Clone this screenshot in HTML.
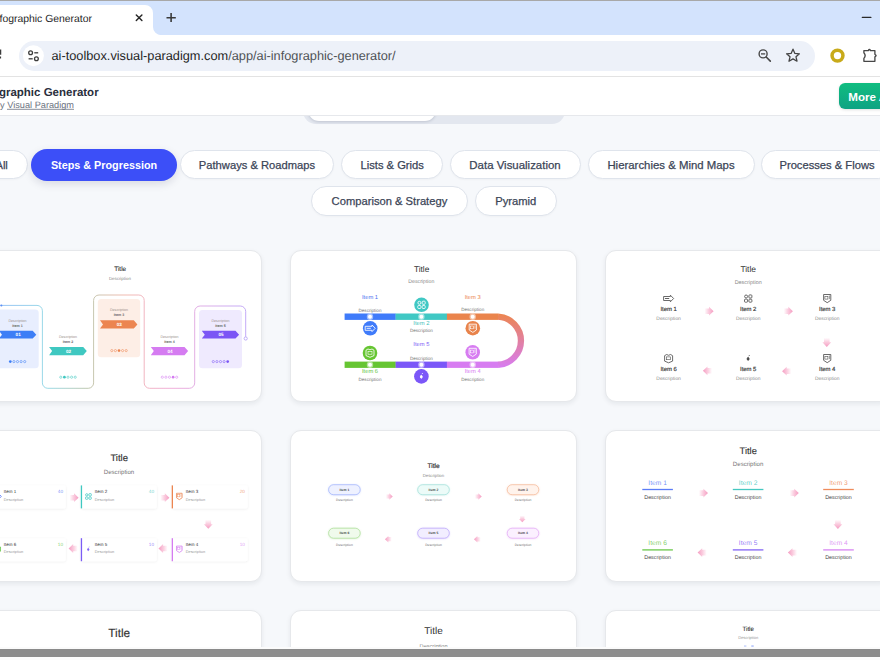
<!DOCTYPE html>
<html><head><meta charset="utf-8"><style>
*{box-sizing:border-box}
html,body{margin:0;padding:0}
body{width:880px;height:660px;overflow:hidden;position:relative;background:#f6f8fb;font-family:"Liberation Sans",sans-serif}
.a{position:absolute}
.pill{position:absolute;height:29.6px;border:1px solid #dfe4ec;background:#fff;box-shadow:0 1px 2px rgba(0,0,0,0.03);border-radius:15px;color:#3b4557;font-size:11.2px;display:flex;align-items:center;justify-content:center;white-space:nowrap;-webkit-text-stroke:0.25px #3b4557;padding-top:1px}
.card{position:absolute;width:287px;height:151.3px;background:#fff;border:1px solid #e6e8eb;border-radius:11px;box-shadow:0 2px 5px rgba(15,23,42,0.07)}
svg text{font-family:"Liberation Sans",sans-serif;text-rendering:geometricPrecision}
</style></head><body>

<!-- ===== Browser chrome ===== -->
<div class="a" style="left:0;top:0;width:880px;height:1px;background:#a8a8a8"></div>
<div class="a" style="left:0;top:1px;width:880px;height:34px;background:#d3e3fd"></div>
<svg class="a" style="left:0;top:0" width="880" height="36" viewBox="0 0 880 36">
  <path d="M-20 36 L-20 13 Q-20 5 -12 5 L145 5 A8 8 0 0 1 153 13 L153 27 A8.3 8.3 0 0 0 161.3 35.3 L161.3 36 Z" fill="#fff"/>
  <text x="92" y="22" font-size="10.4" fill="#1f1f1f" text-anchor="end">Infographic Generator</text>
  <path d="M136.3 14.9 L141.9 20.4 M141.9 14.9 L136.3 20.4" stroke="#262626" stroke-width="1.45" stroke-linecap="round"/>
  <path d="M166.5 17.75 H175.8 M171.1 13 V22" stroke="#3a3a3a" stroke-width="1.6"/>
  <path d="M862.3 17.4 L870.9 17.4" stroke="#2a2a2a" stroke-width="1.2" stroke-linecap="round"/>
</svg>
<div class="a" style="left:0;top:35px;width:880px;height:41px;background:#fff"></div>
<div class="a" style="left:0;top:76px;width:880px;height:1px;background:#e3e3e3"></div>
<div class="a" style="left:18.5px;top:41px;width:796px;height:30px;border-radius:15px;background:#edf1f9"></div>
<svg class="a" style="left:0;top:36px" width="880" height="40" viewBox="0 36 880 40">
  <path d="M0.4 49.6 L0.4 54.8" stroke="#3c3c3c" stroke-width="1.7"/>
  <path d="M0.4 56.6 L0.4 58.4" stroke="#3c3c3c" stroke-width="1.4"/>
  <circle cx="33.4" cy="55.7" r="10.5" fill="#fff"/>
  <circle cx="30.6" cy="52.8" r="1.9" fill="none" stroke="#3c3c3c" stroke-width="1.3"/>
  <path d="M34.3 52.8 L38.2 52.8" stroke="#3c3c3c" stroke-width="1.3"/>
  <circle cx="36.4" cy="58.8" r="1.9" fill="none" stroke="#3c3c3c" stroke-width="1.3"/>
  <path d="M28.6 58.8 L32.7 58.8" stroke="#3c3c3c" stroke-width="1.3"/>
  <text x="51.5" y="60" font-size="12.78" fill="#1f1f1f">ai-toolbox.visual-paradigm.com<tspan fill="#4d5156">/app/ai-infographic-generator/</tspan></text>
  <!-- zoom icon -->
  <circle cx="763.1" cy="53.9" r="4" fill="none" stroke="#474747" stroke-width="1.4"/>
  <path d="M761 53.9 L765.2 53.9" stroke="#474747" stroke-width="1.3"/>
  <path d="M766.2 57 L770.3 61.1" stroke="#474747" stroke-width="1.6" stroke-linecap="round"/>
  <!-- star -->
  <path d="M793 49.2 L794.9 53.4 L799.4 53.8 L796 56.8 L797 61.2 L793 58.9 L789 61.2 L790 56.8 L786.6 53.8 L791.1 53.4 Z" fill="none" stroke="#444" stroke-width="1.3" stroke-linejoin="round"/>
  <!-- extension ring -->
  <circle cx="837.5" cy="55.6" r="5.45" fill="none" stroke="#c8aa1a" stroke-width="3.5"/>
  <!-- puzzle -->
  <path d="M863.9 50.6 L868.3 50.6 Q869.4 48.4 870.5 50.6 L874.9 50.6 L874.9 54.3 Q877.3 55.6 874.9 56.9 L874.9 61.3 L863.9 61.3 L863.9 58.4 Q866.4 55.6 863.9 52.8 Z" fill="none" stroke="#474747" stroke-width="1.35" stroke-linejoin="round"/>
</svg>

<!-- segmented control remnant -->
<div class="a" style="left:303px;top:90px;width:262px;height:33.5px;border-radius:13px;background:#e3e7ef"></div>
<div class="a" style="left:308px;top:90px;width:128px;height:30.5px;border-radius:11px;background:#fff;box-shadow:0 1px 3px rgba(30,40,70,0.18)"></div>
<!-- ===== Page header ===== -->
<div class="a" style="left:0;top:77px;width:880px;height:38px;background:#fff"></div>
<div class="a" style="left:0;top:115px;width:880px;height:1px;background:#e6e8ec"></div>
<svg class="a" style="left:0;top:77px" width="880" height="38" viewBox="0 77 880 38">
  <text x="98.6" y="95.7" font-size="11.5" font-weight="700" fill="#2a2f3d" text-anchor="end">AI Infographic Generator</text>
  <text x="74" y="107.8" font-size="9.2" fill="#6b7280" text-anchor="end">By Visual Paradigm</text>
  <path d="M7 109.3 L74 109.3" stroke="#6b7280" stroke-width="0.8"/>
</svg>
<div class="a" style="left:839px;top:83px;width:80px;height:26px;border-radius:6px;background:linear-gradient(180deg,#10bd80,#0ea383);box-shadow:0 1px 3px rgba(0,0,0,0.12)"></div>
<div class="a" style="left:848.3px;top:90px;color:#fff;font-weight:700;font-size:11.6px;line-height:14px;white-space:nowrap">More AI Tools</div>

<!-- ===== Category pills ===== -->
<div class="pill" style="left:-24.5px;top:149.8px;width:52.3px">All</div>
<div class="a" style="left:31px;top:149px;width:146px;height:31.5px;border-radius:16px;background:#3c4ff8;box-shadow:0 3px 8px rgba(20,25,60,0.13);color:#fff;font-weight:700;font-size:10.8px;display:flex;align-items:center;justify-content:center;padding-top:1px">Steps &amp; Progression</div>
<div class="pill" style="left:180.2px;top:149.8px;width:153.6px">Pathways &amp; Roadmaps</div>
<div class="pill" style="left:341.4px;top:149.8px;width:101.6px">Lists &amp; Grids</div>
<div class="pill" style="left:449.5px;top:149.8px;width:131px;font-size:11.45px">Data Visualization</div>
<div class="pill" style="left:587.5px;top:149.8px;width:167px;font-size:11.4px">Hierarchies &amp; Mind Maps</div>
<div class="pill" style="left:761px;top:149.8px;width:132px">Processes &amp; Flows</div>
<div class="pill" style="left:311.2px;top:186px;width:156.5px">Comparison &amp; Strategy</div>
<div class="pill" style="left:475px;top:186px;width:81.5px">Pyramid</div>

<!-- ===== Cards ===== -->
<div class="card" style="left:-25px;top:250.3px"></div>
<div class="card" style="left:290px;top:250.3px"></div>
<div class="card" style="left:605px;top:250.3px"></div>
<div class="card" style="left:-25px;top:430.3px"></div>
<div class="card" style="left:290px;top:430.3px"></div>
<div class="card" style="left:605px;top:430.3px"></div>
<div class="card" style="left:-25px;top:610.3px"></div>
<div class="card" style="left:290px;top:610.3px"></div>
<div class="card" style="left:605px;top:610.3px"></div>

<!-- CARD CONTENT -->
<svg class="a" style="left:0;top:0;z-index:3;pointer-events:none" width="880" height="660" viewBox="0 0 880 660">
<defs>
<linearGradient id="ag" x1="-4.5" x2="4.5" y1="0" y2="0" gradientUnits="userSpaceOnUse"><stop offset="0" stop-color="#f7a6c6" stop-opacity="0"/><stop offset="0.45" stop-color="#f7a6c6" stop-opacity="0.55"/><stop offset="1" stop-color="#f59cc2"/></linearGradient>
<path id="arr" d="M-4.5 -2.8 H0 V-4.4 L4.6 0 L0 4.4 V2.8 H-4.5 Z" fill="url(#ag)"/>
<linearGradient id="g1" x1="-10" x2="250" y1="0" y2="0" gradientUnits="userSpaceOnUse">
 <stop offset="0" stop-color="#8cb6f6"/><stop offset="0.22" stop-color="#8ed6e4"/><stop offset="0.38" stop-color="#b9c2a6"/>
 <stop offset="0.52" stop-color="#f0b2a6"/><stop offset="0.7" stop-color="#efa6d6"/><stop offset="1" stop-color="#b9a0f8"/></linearGradient>
<linearGradient id="cv" x1="0" y1="314" x2="0" y2="367.5" gradientUnits="userSpaceOnUse"><stop offset="0" stop-color="#ec8550"/><stop offset="1" stop-color="#d77cf1"/></linearGradient>
<g id="i_tag" fill="none"><path d="M-5 -2 H1.8 V-3.3 L5 0 L1.8 3.3 V2 H-5 Z"/><path d="M-3.6 0 H0.6" stroke-width="0.9"/></g>
<g id="i_grid" fill="none"><circle cx="-2.1" cy="-2" r="1.5"/><rect x="0.7" y="-3.6" width="3" height="3.1" rx="0.8"/><rect x="-3.7" y="0.7" width="3.1" height="3" rx="0.8"/><rect x="0.7" y="0.7" width="3" height="3" rx="0.8"/></g>
<g id="i_doc" fill="none"><path d="M-3.6 -4 H3.6 V1.8 L0 4.2 L-3.6 1.8 Z"/><rect x="-2.3" y="-2.2" width="3" height="2.8" stroke-width="0.6"/><path d="M2.2 -3 V0.6" stroke-width="0.6"/></g>
<g id="i_book" fill="none"><path d="M-4 -2.8 L-2 -4 L0 -3.2 L2 -4 L4 -2.8 V2.6 L0 4.3 L-4 2.6 Z"/><rect x="-2" y="-1.6" width="4" height="2.8" stroke-width="0.6"/></g>
<g id="i_note"><ellipse cx="-0.1" cy="0.4" rx="0.9" ry="1.4"/><path d="M0.4 -2.6 L1.6 -3.1" stroke-width="0.7"/></g>
<filter id="bl" x="-30%" y="-80%" width="160%" height="260%"><feGaussianBlur stdDeviation="1.3"/></filter>
<filter id="sh" x="-20%" y="-40%" width="140%" height="180%"><feDropShadow dx="0" dy="0.6" stdDeviation="0.9" flood-color="#000" flood-opacity="0.08"/></filter>
</defs>
<text x="120.2" y="271" font-size="6.4" fill="#333" text-anchor="middle" stroke="#333" stroke-width="0.12">Title</text>
<text x="119.9" y="279.8" font-size="4.4" fill="#888" text-anchor="middle">Description</text>
<rect x="-4.5" y="309.4" width="43.2" height="58.8" rx="3.5" fill="#e8eefe"/>
<rect x="97.8" y="299" width="42.4" height="58.2" rx="3.5" fill="#fdeee6"/>
<rect x="199" y="310" width="43" height="58.2" rx="3.5" fill="#efeafe"/>
<path d="M-10 305.4 H37 A5.4 5.4 0 0 1 42.4 310.8 V382.9 A5.4 5.4 0 0 0 47.8 388.3 H88.2 A5.4 5.4 0 0 0 93.6 382.9 V300.4 A5.4 5.4 0 0 1 99 295 H138.8 A5.4 5.4 0 0 1 144.2 300.4 V382.9 A5.4 5.4 0 0 0 149.6 388.3 H189.3 A5.4 5.4 0 0 0 194.7 382.9 V311.4 A5.4 5.4 0 0 1 200.1 306 H240.3 A5.4 5.4 0 0 1 245.7 311.4 V336.8" fill="none" stroke="url(#g1)" stroke-width="0.9"/><circle cx="1.4" cy="305.5" r="1" fill="#5d8ff6"/>
<circle cx="245.7" cy="338.5" r="1.6" fill="#fff" stroke="#b39cf6" stroke-width="0.8"/>
<path d="M-1 330.8 H32.699999999999996 L36.3 334.65 L32.699999999999996 338.5 H-1 L2 334.65 Z" fill="#3d7ef6"/>
<text x="18.15" y="336.25" font-size="4.6" fill="#fff" text-anchor="middle" font-weight="700">01</text>
<text x="17.5" y="321.5" font-size="3.6" fill="#9a8f8a" text-anchor="middle">Description</text>
<text x="17.5" y="326.7" font-size="3.6" fill="#6b6b6b" text-anchor="middle" font-weight="700">Item 1</text>
<circle cx="10.30" cy="361.6" r="1.35" fill="#3d7ef6"/>
<circle cx="13.90" cy="361.6" r="1.1" fill="none" stroke="#3d7ef6" stroke-width="0.55"/>
<circle cx="17.50" cy="361.6" r="1.1" fill="none" stroke="#3d7ef6" stroke-width="0.55"/>
<circle cx="21.10" cy="361.6" r="1.1" fill="none" stroke="#3d7ef6" stroke-width="0.55"/>
<circle cx="24.70" cy="361.6" r="1.1" fill="none" stroke="#3d7ef6" stroke-width="0.55"/>
<path d="M49.1 346.9 H83.2 L86.8 351.04999999999995 L83.2 355.2 H49.1 L52.1 351.04999999999995 Z" fill="#3fc8c1"/>
<text x="68.45" y="352.65" font-size="4.6" fill="#fff" text-anchor="middle" font-weight="700">02</text>
<text x="68" y="337.59999999999997" font-size="3.6" fill="#9a8f8a" text-anchor="middle">Description</text>
<text x="68" y="342.79999999999995" font-size="3.6" fill="#6b6b6b" text-anchor="middle" font-weight="700">Item 2</text>
<circle cx="60.80" cy="377.2" r="1.1" fill="none" stroke="#3fc8c1" stroke-width="0.55"/>
<circle cx="64.40" cy="377.2" r="1.35" fill="#3fc8c1"/>
<circle cx="68.00" cy="377.2" r="1.1" fill="none" stroke="#3fc8c1" stroke-width="0.55"/>
<circle cx="71.60" cy="377.2" r="1.1" fill="none" stroke="#3fc8c1" stroke-width="0.55"/>
<circle cx="75.20" cy="377.2" r="1.1" fill="none" stroke="#3fc8c1" stroke-width="0.55"/>
<path d="M100 320.3 H133.8 L137.4 324.45000000000005 L133.8 328.6 H100 L103 324.45000000000005 Z" fill="#ec8550"/>
<text x="119.2" y="326.05000000000007" font-size="4.6" fill="#fff" text-anchor="middle" font-weight="700">03</text>
<text x="119" y="311.0" font-size="3.6" fill="#9a8f8a" text-anchor="middle">Description</text>
<text x="119" y="316.2" font-size="3.6" fill="#6b6b6b" text-anchor="middle" font-weight="700">Item 3</text>
<circle cx="111.80" cy="350.6" r="1.1" fill="none" stroke="#ec8550" stroke-width="0.55"/>
<circle cx="115.40" cy="350.6" r="1.1" fill="none" stroke="#ec8550" stroke-width="0.55"/>
<circle cx="119.00" cy="350.6" r="1.35" fill="#ec8550"/>
<circle cx="122.60" cy="350.6" r="1.1" fill="none" stroke="#ec8550" stroke-width="0.55"/>
<circle cx="126.20" cy="350.6" r="1.1" fill="none" stroke="#ec8550" stroke-width="0.55"/>
<path d="M150.8 346.9 H184.5 L188.1 351.04999999999995 L184.5 355.2 H150.8 L153.8 351.04999999999995 Z" fill="#d57cf1"/>
<text x="169.95" y="352.65" font-size="4.6" fill="#fff" text-anchor="middle" font-weight="700">04</text>
<text x="169.5" y="337.59999999999997" font-size="3.6" fill="#9a8f8a" text-anchor="middle">Description</text>
<text x="169.5" y="342.79999999999995" font-size="3.6" fill="#6b6b6b" text-anchor="middle" font-weight="700">Item 4</text>
<circle cx="162.30" cy="377.2" r="1.1" fill="none" stroke="#d57cf1" stroke-width="0.55"/>
<circle cx="165.90" cy="377.2" r="1.1" fill="none" stroke="#d57cf1" stroke-width="0.55"/>
<circle cx="169.50" cy="377.2" r="1.1" fill="none" stroke="#d57cf1" stroke-width="0.55"/>
<circle cx="173.10" cy="377.2" r="1.35" fill="#d57cf1"/>
<circle cx="176.70" cy="377.2" r="1.1" fill="none" stroke="#d57cf1" stroke-width="0.55"/>
<path d="M201.8 330.8 H235.5 L239.1 334.65 L235.5 338.5 H201.8 L204.8 334.65 Z" fill="#7b55f5"/>
<text x="220.95" y="336.25" font-size="4.6" fill="#fff" text-anchor="middle" font-weight="700">05</text>
<text x="220.5" y="321.5" font-size="3.6" fill="#9a8f8a" text-anchor="middle">Description</text>
<text x="220.5" y="326.7" font-size="3.6" fill="#6b6b6b" text-anchor="middle" font-weight="700">Item 5</text>
<circle cx="213.30" cy="361.6" r="1.1" fill="none" stroke="#7b55f5" stroke-width="0.55"/>
<circle cx="216.90" cy="361.6" r="1.1" fill="none" stroke="#7b55f5" stroke-width="0.55"/>
<circle cx="220.50" cy="361.6" r="1.1" fill="none" stroke="#7b55f5" stroke-width="0.55"/>
<circle cx="224.10" cy="361.6" r="1.1" fill="none" stroke="#7b55f5" stroke-width="0.55"/>
<circle cx="227.70" cy="361.6" r="1.35" fill="#7b55f5"/>
<circle cx="-0.5" cy="334.7" r="1.3" fill="#fff"/>
<text x="421.6" y="271.9" font-size="8.3" fill="#333" text-anchor="middle">Title</text>
<text x="421.3" y="282.7" font-size="5.2" fill="#888" text-anchor="middle">Description</text>
<rect x="344.6" y="313.5" width="51.2" height="6.4" fill="#3f7bfa"/>
<rect x="395.6" y="313.5" width="51.4" height="6.4" fill="#40c8c4"/>
<rect x="446.9" y="313.5" width="51.3" height="6.4" fill="#ea844c"/>
<rect x="344.6" y="361.6" width="51.2" height="6.3" fill="#66c532"/>
<rect x="395.6" y="361.6" width="51.4" height="6.3" fill="#7b57f8"/>
<rect x="446.9" y="361.6" width="51.3" height="6.3" fill="#d77cf1"/>
<path d="M498 316.7 A24.05 24.05 0 0 1 498 364.75" fill="none" stroke="url(#cv)" stroke-width="6.3"/>
<circle cx="370" cy="316.7" r="3.2" fill="#fff" fill-opacity="0.5"/><circle cx="370" cy="316.7" r="2" fill="#fff"/>
<circle cx="370" cy="364.75" r="3.2" fill="#fff" fill-opacity="0.5"/><circle cx="370" cy="364.75" r="2" fill="#fff"/>
<circle cx="421.4" cy="316.7" r="3.2" fill="#fff" fill-opacity="0.5"/><circle cx="421.4" cy="316.7" r="2" fill="#fff"/>
<circle cx="421.4" cy="364.75" r="3.2" fill="#fff" fill-opacity="0.5"/><circle cx="421.4" cy="364.75" r="2" fill="#fff"/>
<circle cx="472.7" cy="316.7" r="3.2" fill="#fff" fill-opacity="0.5"/><circle cx="472.7" cy="316.7" r="2" fill="#fff"/>
<circle cx="472.7" cy="364.75" r="3.2" fill="#fff" fill-opacity="0.5"/><circle cx="472.7" cy="364.75" r="2" fill="#fff"/>
<circle cx="370.2" cy="328.3" r="7.3" fill="#3f7bfa"/>
<use href="#i_tag" transform="translate(370.2 328.3) scale(1.0)" stroke="#fff" stroke-width="0.85"/>
<circle cx="421.5" cy="304.8" r="7.3" fill="#40c8c4"/>
<use href="#i_grid" transform="translate(421.5 304.8) scale(1.0)" stroke="#fff" stroke-width="0.85"/>
<circle cx="472.8" cy="328.2" r="7.3" fill="#e8834b"/>
<use href="#i_doc" transform="translate(472.8 328.2) scale(1.0)" stroke="#fff" stroke-width="0.85"/>
<circle cx="370" cy="353" r="7.3" fill="#66c532"/>
<use href="#i_book" transform="translate(370 353) scale(1.0)" stroke="#fff" stroke-width="0.85"/>
<circle cx="421.4" cy="376.4" r="7.3" fill="#7b57f8"/>
<use href="#i_note" transform="translate(421.4 376.4)" fill="#fff" stroke="#fff"/>
<circle cx="472.7" cy="352.3" r="7.3" fill="#d77cf1"/>
<use href="#i_doc" transform="translate(472.7 352.3) scale(1.0)" stroke="#fff" stroke-width="0.85"/>
<text x="370" y="298.5" font-size="5.8" fill="#4b6ef0" text-anchor="middle">Item 1</text>
<text x="370" y="311.59999999999997" font-size="4.6" fill="#777" text-anchor="middle">Description</text>
<text x="421.4" y="325.1" font-size="5.8" fill="#3fc0b8" text-anchor="middle">Item 2</text>
<text x="421.4" y="331.79999999999995" font-size="4.6" fill="#777" text-anchor="middle">Description</text>
<text x="472.7" y="298.6" font-size="5.8" fill="#ec8550" text-anchor="middle">Item 3</text>
<text x="472.7" y="311.4" font-size="4.6" fill="#777" text-anchor="middle">Description</text>
<text x="421.4" y="346.3" font-size="5.8" fill="#7b5cf5" text-anchor="middle">Item 5</text>
<text x="421.4" y="360.4" font-size="4.6" fill="#777" text-anchor="middle">Description</text>
<text x="370" y="372.8" font-size="5.8" fill="#5ec440" text-anchor="middle">Item 6</text>
<text x="370" y="380.59999999999997" font-size="4.6" fill="#777" text-anchor="middle">Description</text>
<text x="472.7" y="372.70000000000005" font-size="5.8" fill="#d77cf1" text-anchor="middle">Item 4</text>
<text x="472.7" y="380.7" font-size="4.6" fill="#777" text-anchor="middle">Description</text>
<text x="748.2" y="271.8" font-size="8.4" fill="#333" text-anchor="middle">Title</text>
<text x="748.2" y="283.5" font-size="5.4" fill="#888" text-anchor="middle">Description</text>
<use href="#i_tag" transform="translate(668.6 298.5)" stroke="#505050" stroke-width="0.85"/>
<text x="668.6" y="310.8" font-size="5.9" fill="#3a3a3a" text-anchor="middle" stroke="#3a3a3a" stroke-width="0.18">Item 1</text>
<text x="668.6" y="319.8" font-size="4.9" fill="#8a8a8a" text-anchor="middle">Description</text>
<use href="#i_grid" transform="translate(748.2 298.5)" stroke="#505050" stroke-width="0.85"/>
<text x="748.2" y="310.8" font-size="5.9" fill="#3a3a3a" text-anchor="middle" stroke="#3a3a3a" stroke-width="0.18">Item 2</text>
<text x="748.2" y="319.8" font-size="4.9" fill="#8a8a8a" text-anchor="middle">Description</text>
<use href="#i_doc" transform="translate(827.2 298.5)" stroke="#505050" stroke-width="0.85"/>
<text x="827.2" y="310.8" font-size="5.9" fill="#3a3a3a" text-anchor="middle" stroke="#3a3a3a" stroke-width="0.18">Item 3</text>
<text x="827.2" y="319.8" font-size="4.9" fill="#8a8a8a" text-anchor="middle">Description</text>
<use href="#i_book" transform="translate(668.6 358.5)" stroke="#505050" stroke-width="0.85"/>
<text x="668.6" y="371.0" font-size="5.9" fill="#3a3a3a" text-anchor="middle" stroke="#3a3a3a" stroke-width="0.18">Item 6</text>
<text x="668.6" y="379.8" font-size="4.9" fill="#8a8a8a" text-anchor="middle">Description</text>
<use href="#i_note" transform="translate(748.2 358.5)" fill="#444" stroke="#444"/>
<text x="748.2" y="371.0" font-size="5.9" fill="#3a3a3a" text-anchor="middle" stroke="#3a3a3a" stroke-width="0.18">Item 5</text>
<text x="748.2" y="379.8" font-size="4.9" fill="#8a8a8a" text-anchor="middle">Description</text>
<use href="#i_doc" transform="translate(827.2 358.5)" stroke="#505050" stroke-width="0.85"/>
<text x="827.2" y="371.0" font-size="5.9" fill="#3a3a3a" text-anchor="middle" stroke="#3a3a3a" stroke-width="0.18">Item 4</text>
<text x="827.2" y="379.8" font-size="4.9" fill="#8a8a8a" text-anchor="middle">Description</text>
<use href="#arr" transform="translate(709 311.2) rotate(0) scale(1.0)"/>
<use href="#arr" transform="translate(788.3 311.2) rotate(0) scale(1.0)"/>
<use href="#arr" transform="translate(826.8 342.3) rotate(90) scale(1.0)"/>
<use href="#arr" transform="translate(786.7 371.2) rotate(180) scale(1.0)"/>
<use href="#arr" transform="translate(707.5 370.8) rotate(180) scale(1.0)"/>
<text x="119.2" y="460.8" font-size="9.5" fill="#333" text-anchor="middle" stroke="#333" stroke-width="0.15">Title</text>
<text x="119" y="473.9" font-size="6.1" fill="#777" text-anchor="middle">Description</text>
<rect x="-10.2" y="485.4" width="76" height="23" rx="2" fill="#fff" filter="url(#sh)"/>
<rect x="-10.2" y="485.4" width="1.3" height="23" fill="#4b6ef5"/>
<use href="#i_tag" transform="translate(-2.5999999999999996 496.4) scale(0.78)" stroke="#4b6ef5" stroke-width="1"/>
<text x="3.8000000000000007" y="492.79999999999995" font-size="4.5" fill="#333" text-anchor="start">Item 1</text>
<text x="3.8000000000000007" y="500.59999999999997" font-size="3.9" fill="#999" text-anchor="start">Description</text>
<text x="63.0" y="492.79999999999995" font-size="4.7" fill="#4b6ef5" text-anchor="end" fill-opacity="0.75">40</text>
<rect x="80.8" y="485.4" width="76" height="23" rx="2" fill="#fff" filter="url(#sh)"/>
<rect x="80.8" y="485.4" width="1.3" height="23" fill="#3fc8c1"/>
<use href="#i_grid" transform="translate(88.39999999999999 496.4) scale(0.78)" stroke="#3fc8c1" stroke-width="1"/>
<text x="94.8" y="492.79999999999995" font-size="4.5" fill="#333" text-anchor="start">Item 2</text>
<text x="94.8" y="500.59999999999997" font-size="3.9" fill="#999" text-anchor="start">Description</text>
<text x="154.0" y="492.79999999999995" font-size="4.7" fill="#3fc8c1" text-anchor="end" fill-opacity="0.75">40</text>
<rect x="171.7" y="485.4" width="76" height="23" rx="2" fill="#fff" filter="url(#sh)"/>
<rect x="171.7" y="485.4" width="1.3" height="23" fill="#ec8550"/>
<use href="#i_doc" transform="translate(179.29999999999998 496.4) scale(0.78)" stroke="#ec8550" stroke-width="1"/>
<text x="185.7" y="492.79999999999995" font-size="4.5" fill="#333" text-anchor="start">Item 3</text>
<text x="185.7" y="500.59999999999997" font-size="3.9" fill="#999" text-anchor="start">Description</text>
<text x="244.89999999999998" y="492.79999999999995" font-size="4.7" fill="#ec8550" text-anchor="end" fill-opacity="0.75">20</text>
<rect x="-10.2" y="538.2" width="76" height="23" rx="2" fill="#fff" filter="url(#sh)"/>
<rect x="-10.2" y="538.2" width="1.3" height="23" fill="#5ec440"/>
<use href="#i_book" transform="translate(-2.5999999999999996 549.2) scale(0.78)" stroke="#5ec440" stroke-width="1"/>
<text x="3.8000000000000007" y="545.6" font-size="4.5" fill="#333" text-anchor="start">Item 6</text>
<text x="3.8000000000000007" y="553.4000000000001" font-size="3.9" fill="#999" text-anchor="start">Description</text>
<text x="63.0" y="545.6" font-size="4.7" fill="#5ec440" text-anchor="end" fill-opacity="0.75">10</text>
<rect x="80.8" y="538.2" width="76" height="23" rx="2" fill="#fff" filter="url(#sh)"/>
<rect x="80.8" y="538.2" width="1.3" height="23" fill="#7b5cf5"/>
<use href="#i_note" transform="translate(88.3 549.2) scale(0.75)" fill="#7b5cf5" stroke="#7b5cf5"/>
<text x="94.8" y="545.6" font-size="4.5" fill="#333" text-anchor="start">Item 5</text>
<text x="94.8" y="553.4000000000001" font-size="3.9" fill="#999" text-anchor="start">Description</text>
<text x="154.0" y="545.6" font-size="4.7" fill="#7b5cf5" text-anchor="end" fill-opacity="0.75">10</text>
<rect x="171.7" y="538.2" width="76" height="23" rx="2" fill="#fff" filter="url(#sh)"/>
<rect x="171.7" y="538.2" width="1.3" height="23" fill="#d57cf1"/>
<use href="#i_doc" transform="translate(179.29999999999998 549.2) scale(0.78)" stroke="#d57cf1" stroke-width="1"/>
<text x="185.7" y="545.6" font-size="4.5" fill="#333" text-anchor="start">Item 4</text>
<text x="185.7" y="553.4000000000001" font-size="3.9" fill="#999" text-anchor="start">Description</text>
<text x="244.89999999999998" y="545.6" font-size="4.7" fill="#d57cf1" text-anchor="end" fill-opacity="0.75">10</text>
<use href="#arr" transform="translate(74 497.7) rotate(0) scale(1.0)"/>
<use href="#arr" transform="translate(164.8 497.7) rotate(0) scale(1.0)"/>
<use href="#arr" transform="translate(208.3 524.2) rotate(90) scale(1.0)"/>
<use href="#arr" transform="translate(163.1 548.5) rotate(180) scale(1.0)"/>
<use href="#arr" transform="translate(73.2 548.5) rotate(180) scale(1.0)"/>
<text x="433.6" y="467.7" font-size="6.5" fill="#333" text-anchor="middle" stroke="#333" stroke-width="0.2">Title</text>
<text x="433.4" y="476.6" font-size="4.3" fill="#888" text-anchor="middle">Description</text>
<rect x="328.59999999999997" y="485.09999999999997" width="31.6" height="10" rx="5" fill="#9fb2fb" opacity="0.6" filter="url(#bl)"/>
<rect x="328.59999999999997" y="484.7" width="31.6" height="10" rx="5" fill="#eef1ff" stroke="#9fb2fb" stroke-width="0.7"/>
<text x="344.4" y="490.8" font-size="3.4" fill="#444" text-anchor="middle" font-weight="700">Item 1</text>
<text x="344.4" y="501" font-size="3.35" fill="#6f6f6f" text-anchor="middle">Description</text>
<rect x="417.7" y="485.09999999999997" width="31.6" height="10" rx="5" fill="#9fe0d8" opacity="0.6" filter="url(#bl)"/>
<rect x="417.7" y="484.7" width="31.6" height="10" rx="5" fill="#ecfbf8" stroke="#9fe0d8" stroke-width="0.7"/>
<text x="433.5" y="490.8" font-size="3.4" fill="#444" text-anchor="middle" font-weight="700">Item 2</text>
<text x="433.5" y="501" font-size="3.35" fill="#6f6f6f" text-anchor="middle">Description</text>
<rect x="507.2" y="485.09999999999997" width="31.6" height="10" rx="5" fill="#f5b896" opacity="0.6" filter="url(#bl)"/>
<rect x="507.2" y="484.7" width="31.6" height="10" rx="5" fill="#fff3ec" stroke="#f5b896" stroke-width="0.7"/>
<text x="523" y="490.8" font-size="3.4" fill="#444" text-anchor="middle" font-weight="700">Item 3</text>
<text x="523" y="501" font-size="3.35" fill="#6f6f6f" text-anchor="middle">Description</text>
<rect x="328.59999999999997" y="528.6" width="31.6" height="10" rx="5" fill="#a9dd95" opacity="0.6" filter="url(#bl)"/>
<rect x="328.59999999999997" y="528.2" width="31.6" height="10" rx="5" fill="#f0faec" stroke="#a9dd95" stroke-width="0.7"/>
<text x="344.4" y="534.3000000000001" font-size="3.4" fill="#444" text-anchor="middle" font-weight="700">Item 6</text>
<text x="344.4" y="545.5" font-size="3.35" fill="#6f6f6f" text-anchor="middle">Description</text>
<rect x="417.7" y="528.6" width="31.6" height="10" rx="5" fill="#b9a4fa" opacity="0.6" filter="url(#bl)"/>
<rect x="417.7" y="528.2" width="31.6" height="10" rx="5" fill="#f2eeff" stroke="#b9a4fa" stroke-width="0.7"/>
<text x="433.5" y="534.3000000000001" font-size="3.4" fill="#444" text-anchor="middle" font-weight="700">Item 5</text>
<text x="433.5" y="545.5" font-size="3.35" fill="#6f6f6f" text-anchor="middle">Description</text>
<rect x="507.2" y="528.6" width="31.6" height="10" rx="5" fill="#e2a8f5" opacity="0.6" filter="url(#bl)"/>
<rect x="507.2" y="528.2" width="31.6" height="10" rx="5" fill="#fbf0ff" stroke="#e2a8f5" stroke-width="0.7"/>
<text x="523" y="534.3000000000001" font-size="3.4" fill="#444" text-anchor="middle" font-weight="700">Item 4</text>
<text x="523" y="545.5" font-size="3.35" fill="#6f6f6f" text-anchor="middle">Description</text>
<use href="#arr" transform="translate(389.3 496.5) rotate(0) scale(0.75)"/>
<use href="#arr" transform="translate(478.3 496.5) rotate(0) scale(0.75)"/>
<use href="#arr" transform="translate(522.3 518.9) rotate(90) scale(0.75)"/>
<use href="#arr" transform="translate(477.4 539.3) rotate(180) scale(0.75)"/>
<use href="#arr" transform="translate(388.4 539.2) rotate(180) scale(0.75)"/>
<text x="748.2" y="453.6" font-size="9.4" fill="#333" text-anchor="middle" stroke="#333" stroke-width="0.12">Title</text>
<text x="748.1" y="465.7" font-size="6.1" fill="#777" text-anchor="middle">Description</text>
<text x="657.6" y="484.70000000000005" font-size="6.7" fill="#5b7cf7" text-anchor="middle" fill-opacity="0.85">Item 1</text>
<rect x="642.3000000000001" y="488.85" width="30.6" height="1.3" fill="#5b7cf7"/>
<text x="657.6" y="498.8" font-size="5.3" fill="#444" text-anchor="middle">Description</text>
<text x="748.1" y="484.70000000000005" font-size="6.7" fill="#45c8c0" text-anchor="middle" fill-opacity="0.85">Item 2</text>
<rect x="732.8000000000001" y="488.85" width="30.6" height="1.3" fill="#45c8c0"/>
<text x="748.1" y="498.8" font-size="5.3" fill="#444" text-anchor="middle">Description</text>
<text x="838.5" y="484.70000000000005" font-size="6.7" fill="#ef8c5c" text-anchor="middle" fill-opacity="0.85">Item 3</text>
<rect x="823.2" y="488.85" width="30.6" height="1.3" fill="#ef8c5c"/>
<text x="838.5" y="498.8" font-size="5.3" fill="#444" text-anchor="middle">Description</text>
<text x="657.6" y="545.1" font-size="6.7" fill="#6cc84c" text-anchor="middle" fill-opacity="0.85">Item 6</text>
<rect x="642.3000000000001" y="549.25" width="30.6" height="1.3" fill="#6cc84c"/>
<text x="657.6" y="559.2" font-size="5.3" fill="#444" text-anchor="middle">Description</text>
<text x="748.1" y="545.1" font-size="6.7" fill="#8466f5" text-anchor="middle" fill-opacity="0.85">Item 5</text>
<rect x="732.8000000000001" y="549.25" width="30.6" height="1.3" fill="#8466f5"/>
<text x="748.1" y="559.2" font-size="5.3" fill="#444" text-anchor="middle">Description</text>
<text x="838.5" y="545.1" font-size="6.7" fill="#d786f2" text-anchor="middle" fill-opacity="0.85">Item 4</text>
<rect x="823.2" y="549.25" width="30.6" height="1.3" fill="#d786f2"/>
<text x="838.5" y="559.2" font-size="5.3" fill="#444" text-anchor="middle">Description</text>
<use href="#arr" transform="translate(703.4 493.1) rotate(0) scale(1.0)"/>
<use href="#arr" transform="translate(794.2 493.1) rotate(0) scale(1.0)"/>
<use href="#arr" transform="translate(837.9 524.3) rotate(90) scale(1.0)"/>
<use href="#arr" transform="translate(792.5 552.6) rotate(180) scale(1.0)"/>
<use href="#arr" transform="translate(702.2 552.6) rotate(180) scale(1.0)"/>
<text x="119.2" y="637" font-size="11.8" fill="#333" text-anchor="middle" stroke="#333" stroke-width="0.15">Title</text>
<text x="433.6" y="634.3" font-size="10" fill="#333" text-anchor="middle">Title</text>
<text x="433.6" y="648" font-size="5.6" fill="#888" text-anchor="middle">Description</text>
<text x="748.2" y="630.5" font-size="6.2" fill="#333" text-anchor="middle" stroke="#333" stroke-width="0.1">Title</text>
<text x="748.2" y="639" font-size="4" fill="#999" text-anchor="middle">Description</text>
<rect x="744" y="645.3" width="2.4" height="1.5" fill="#c7d3fb"/><rect x="751.3" y="645.3" width="2.4" height="1.5" fill="#aebffa"/>
</svg>
<!-- bottom scrollbar -->
<div class="a" style="left:0;top:647px;width:880px;height:13px;background:#fbfbfb;z-index:5"></div>
<div class="a" style="left:0;top:649px;width:880px;height:8px;background:#8b8b8b;z-index:5"></div>
</body></html>
